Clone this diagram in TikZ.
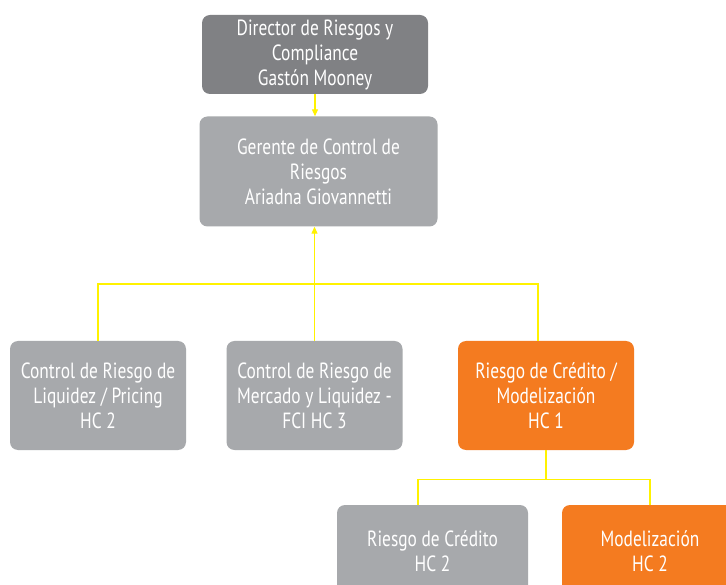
\documentclass[tikz,border=0pt]{standalone}
\usepackage{fontspec}
\setmainfont{PT Sans}[FakeStretch=0.79]
\usetikzlibrary{arrows.meta}
\definecolor{darkbox}{HTML}{808184}
\definecolor{greybox}{HTML}{A7A9AC}
\definecolor{orangebox}{HTML}{F47B20}
\definecolor{linkyellow}{HTML}{FFF200}

\begin{document}
\begin{tikzpicture}[x=1pt, y=-1pt,
  box/.style={rectangle, rounded corners=8pt, text=white, align=center,
    minimum width=176pt, minimum height=109pt, inner sep=0pt,
    font=\fontsize{22}{25}\selectfont},
  link/.style={draw=linkyellow, line width=1.2pt},
  tip/.style={-{Triangle[width=6pt,length=7pt]}}]

\clip (0,0) rectangle (726,585);
\fill[white] (0,0) rectangle (726,585);

% director and manager
\node[box, fill=darkbox, minimum width=226pt, minimum height=79pt] (dir) at (315,54.5)
  {Director de Riesgos y\\Compliance\\Gastón Mooney};
\node[box, fill=greybox, minimum width=238pt, minimum height=110pt] (ger) at (318.5,171.5)
  {Gerente de Control de\\Riesgos\\Ariadna Giovannetti};

% control areas
\node[box, fill=greybox] (liq) at (98,395.5) {Control de Riesgo de\\Liquidez / Pricing\\HC 2};
\node[box, fill=greybox] (mer) at (314.5,395.5) {Control de Riesgo de\\Mercado y Liquidez -\\FCI HC 3};
\node[box, fill=orangebox] (cre) at (546,395.5) {Riesgo de Crédito /\\Modelización\\HC 1};

% credit teams
\node[box, fill=greybox, minimum width=191pt, minimum height=92pt] (rc) at (432.5,551) {Riesgo de Crédito\\HC 2};
\node[box, fill=orangebox, minimum height=92pt] (mod) at (650,551) {Modelización\\HC 2};

% links
\draw[link, tip] (dir.south) -- (dir.south |- ger.north);
\coordinate (bus) at (315,284);
\draw[link, tip] (mer.north) -- (mer.north |- ger.south);
\draw[link] (liq.north) |- ([xshift=-8pt]cre.north |- bus) -- ([xshift=-8pt]cre.north);
\draw[link] (cre.south) -- ++(0,29) coordinate (split);
\draw[link] ([xshift=-14.5pt]rc.north) |- (split) -| (mod.north);

\end{tikzpicture}
\end{document}
